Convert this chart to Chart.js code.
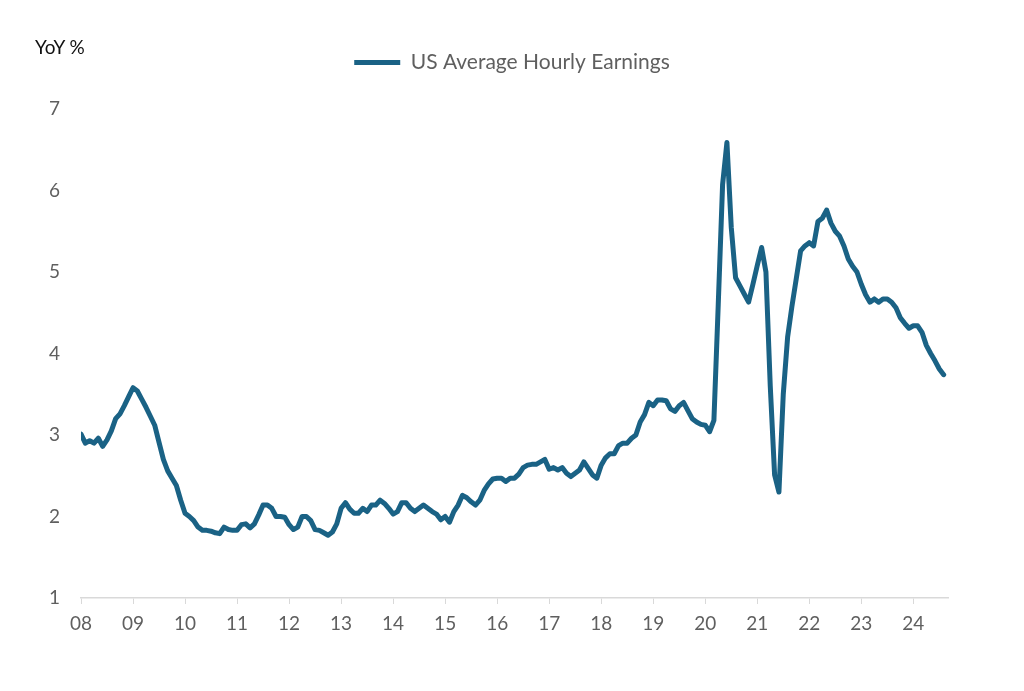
<!DOCTYPE html>
<html>
<head>
<meta charset="utf-8">
<script src="https://cdn.jsdelivr.net/npm/chart.js@4.4.1/dist/chart.umd.min.js"></script>
<style>
	html, body { margin: 0; padding: 0; background: #fff; }
	#wrap { position: relative; width: 1024px; height: 691px; }
	#unit { position: absolute; left: 35px; top: 35px; font-family: Lato, sans-serif; font-size: 19px; color: #111; }
</style>
</head>
<body>
<div id="wrap">
	<canvas id="myChart" width="1024" height="691"></canvas>
	<div id="unit">YoY %</div>
</div>
<script>
// monthly, Jan 2008 .. Aug 2024
const seriesName = "US Average Hourly Earnings";
const yearTicks = ["08", "09", "10", "11", "12", "13", "14", "15", "16", "17", "18", "19", "20", "21", "22", "23", "24"];
const yTicks = [1, 2, 3, 4, 5, 6, 7];

const ahe2008 = [3.01, 2.90, 2.93, 2.90, 2.96, 2.86, 2.94, 3.05, 3.20, 3.26, 3.36, 3.47];
const ahe2009 = [3.58, 3.54, 3.44, 3.34, 3.23, 3.12, 2.91, 2.70, 2.56, 2.47, 2.38, 2.20];
const ahe2010 = [2.04, 2.00, 1.95, 1.87, 1.83, 1.83, 1.82, 1.80, 1.79, 1.87, 1.84, 1.83];
const ahe2011 = [1.83, 1.90, 1.91, 1.86, 1.91, 2.02, 2.14, 2.14, 2.10, 2.00, 2.00, 1.99];
const ahe2012 = [1.90, 1.84, 1.87, 2.00, 2.00, 1.95, 1.84, 1.83, 1.80, 1.77, 1.81, 1.91];
const ahe2013 = [2.10, 2.17, 2.09, 2.04, 2.04, 2.10, 2.06, 2.14, 2.14, 2.20, 2.16, 2.10];
const ahe2014 = [2.03, 2.06, 2.17, 2.17, 2.10, 2.06, 2.10, 2.14, 2.10, 2.06, 2.03, 1.96];
const ahe2015 = [2.00, 1.93, 2.06, 2.14, 2.26, 2.23, 2.18, 2.14, 2.20, 2.32, 2.40, 2.46];
const ahe2016 = [2.47, 2.47, 2.43, 2.47, 2.47, 2.52, 2.60, 2.63, 2.64, 2.64, 2.67, 2.70];
const ahe2017 = [2.58, 2.60, 2.57, 2.60, 2.53, 2.49, 2.53, 2.57, 2.67, 2.59, 2.51, 2.47];
const ahe2018 = [2.63, 2.72, 2.77, 2.77, 2.87, 2.90, 2.90, 2.96, 3.00, 3.16, 3.25, 3.40];
const ahe2019 = [3.36, 3.43, 3.43, 3.42, 3.32, 3.29, 3.36, 3.40, 3.30, 3.20, 3.16, 3.13];
const ahe2020 = [3.12, 3.04, 3.18, 4.60, 6.07, 6.59, 5.55, 4.93, 4.83, 4.73, 4.63, 4.85];
const ahe2021 = [5.08, 5.30, 5.00, 3.60, 2.51, 2.30, 3.50, 4.20, 4.58, 4.92, 5.26, 5.32];
const ahe2022 = [5.36, 5.32, 5.62, 5.66, 5.76, 5.60, 5.50, 5.44, 5.32, 5.16, 5.07, 5.00];
const ahe2023 = [4.85, 4.72, 4.63, 4.67, 4.63, 4.67, 4.67, 4.63, 4.56, 4.44, 4.37, 4.31];
const ahe2024 = [4.34, 4.34, 4.26, 4.10, 4.00, 3.91, 3.81, 3.74];

const aheValues = [].concat(ahe2008, ahe2009, ahe2010, ahe2011, ahe2012, ahe2013, ahe2014,
	ahe2015, ahe2016, ahe2017, ahe2018, ahe2019, ahe2020, ahe2021, ahe2022, ahe2023, ahe2024);

const lineColor = "#1a6285";
const tickColor = "#5f5f5f";
const axisColor = "#d9d9d9";
const fontFamily = "Lato, 'Open Sans', sans-serif";

// push the plot area down below the legend
const legendGap = {
	id: "legendGap",
	beforeInit(chart) {
		const fit = chart.legend.fit;
		chart.legend.fit = function () {
			fit.call(this);
			this.height += 26;
		};
	},
};

const ctx = document.getElementById("myChart").getContext("2d");

new Chart(ctx, {
	type: "line",
	data: {
		datasets: [
			{
				label: seriesName,
				data: aheValues.map((v, i) => ({ x: i, y: v })),
				borderColor: lineColor,
				backgroundColor: lineColor,
				borderWidth: 5,
				borderCapStyle: "round",
				borderJoinStyle: "round",
				pointRadius: 0,
				tension: 0,
			},
		],
	},
	options: {
		responsive: false,
		animation: false,
		layout: {
			padding: { top: 42, right: 0, bottom: 53, left: 0 },
		},
		scales: {
			x: {
				type: "linear",
				min: 0,
				max: 200,
				grid: {
					drawOnChartArea: false,
					drawTicks: true,
					tickLength: 6,
					color: axisColor,
				},
				border: { display: true, color: axisColor, width: 1.5 },
				afterBuildTicks: (scale) => {
					scale.ticks = yearTicks.map((_, k) => ({ value: k * 12 }));
				},
				afterFit: (scale) => {
					scale.height = 40;
				},
				ticks: {
					autoSkip: false,
					maxRotation: 0,
					padding: 8,
					color: tickColor,
					font: { family: fontFamily, size: 19 },
					callback: (value, index) => yearTicks[index],
				},
			},
			y: {
				min: 1,
				max: 7,
				grid: { display: false, drawTicks: false },
				border: { display: false },
				afterBuildTicks: (scale) => {
					scale.ticks = yTicks.map((v) => ({ value: v }));
				},
				afterFit: (scale) => {
					scale.width = 81;
				},
				ticks: {
					padding: 21,
					color: tickColor,
					font: { family: fontFamily, size: 19 },
				},
			},
			// empty right-hand margin so the legend stays centred on the page
			right: {
				position: "right",
				grid: { display: false, drawTicks: false },
				border: { display: false },
				ticks: { display: false },
				afterFit: (scale) => {
					scale.width = 76;
				},
			},
		},
		plugins: {
			legend: {
				display: true,
				position: "top",
				labels: {
					usePointStyle: true,
					pointStyle: "line",
					pointStyleWidth: 46,
					color: tickColor,
					font: { family: fontFamily, size: 21 },
					padding: 10,
				},
			},
			tooltip: { enabled: false },
		},
	},
	plugins: [legendGap],
});
</script>
</body>
</html>
